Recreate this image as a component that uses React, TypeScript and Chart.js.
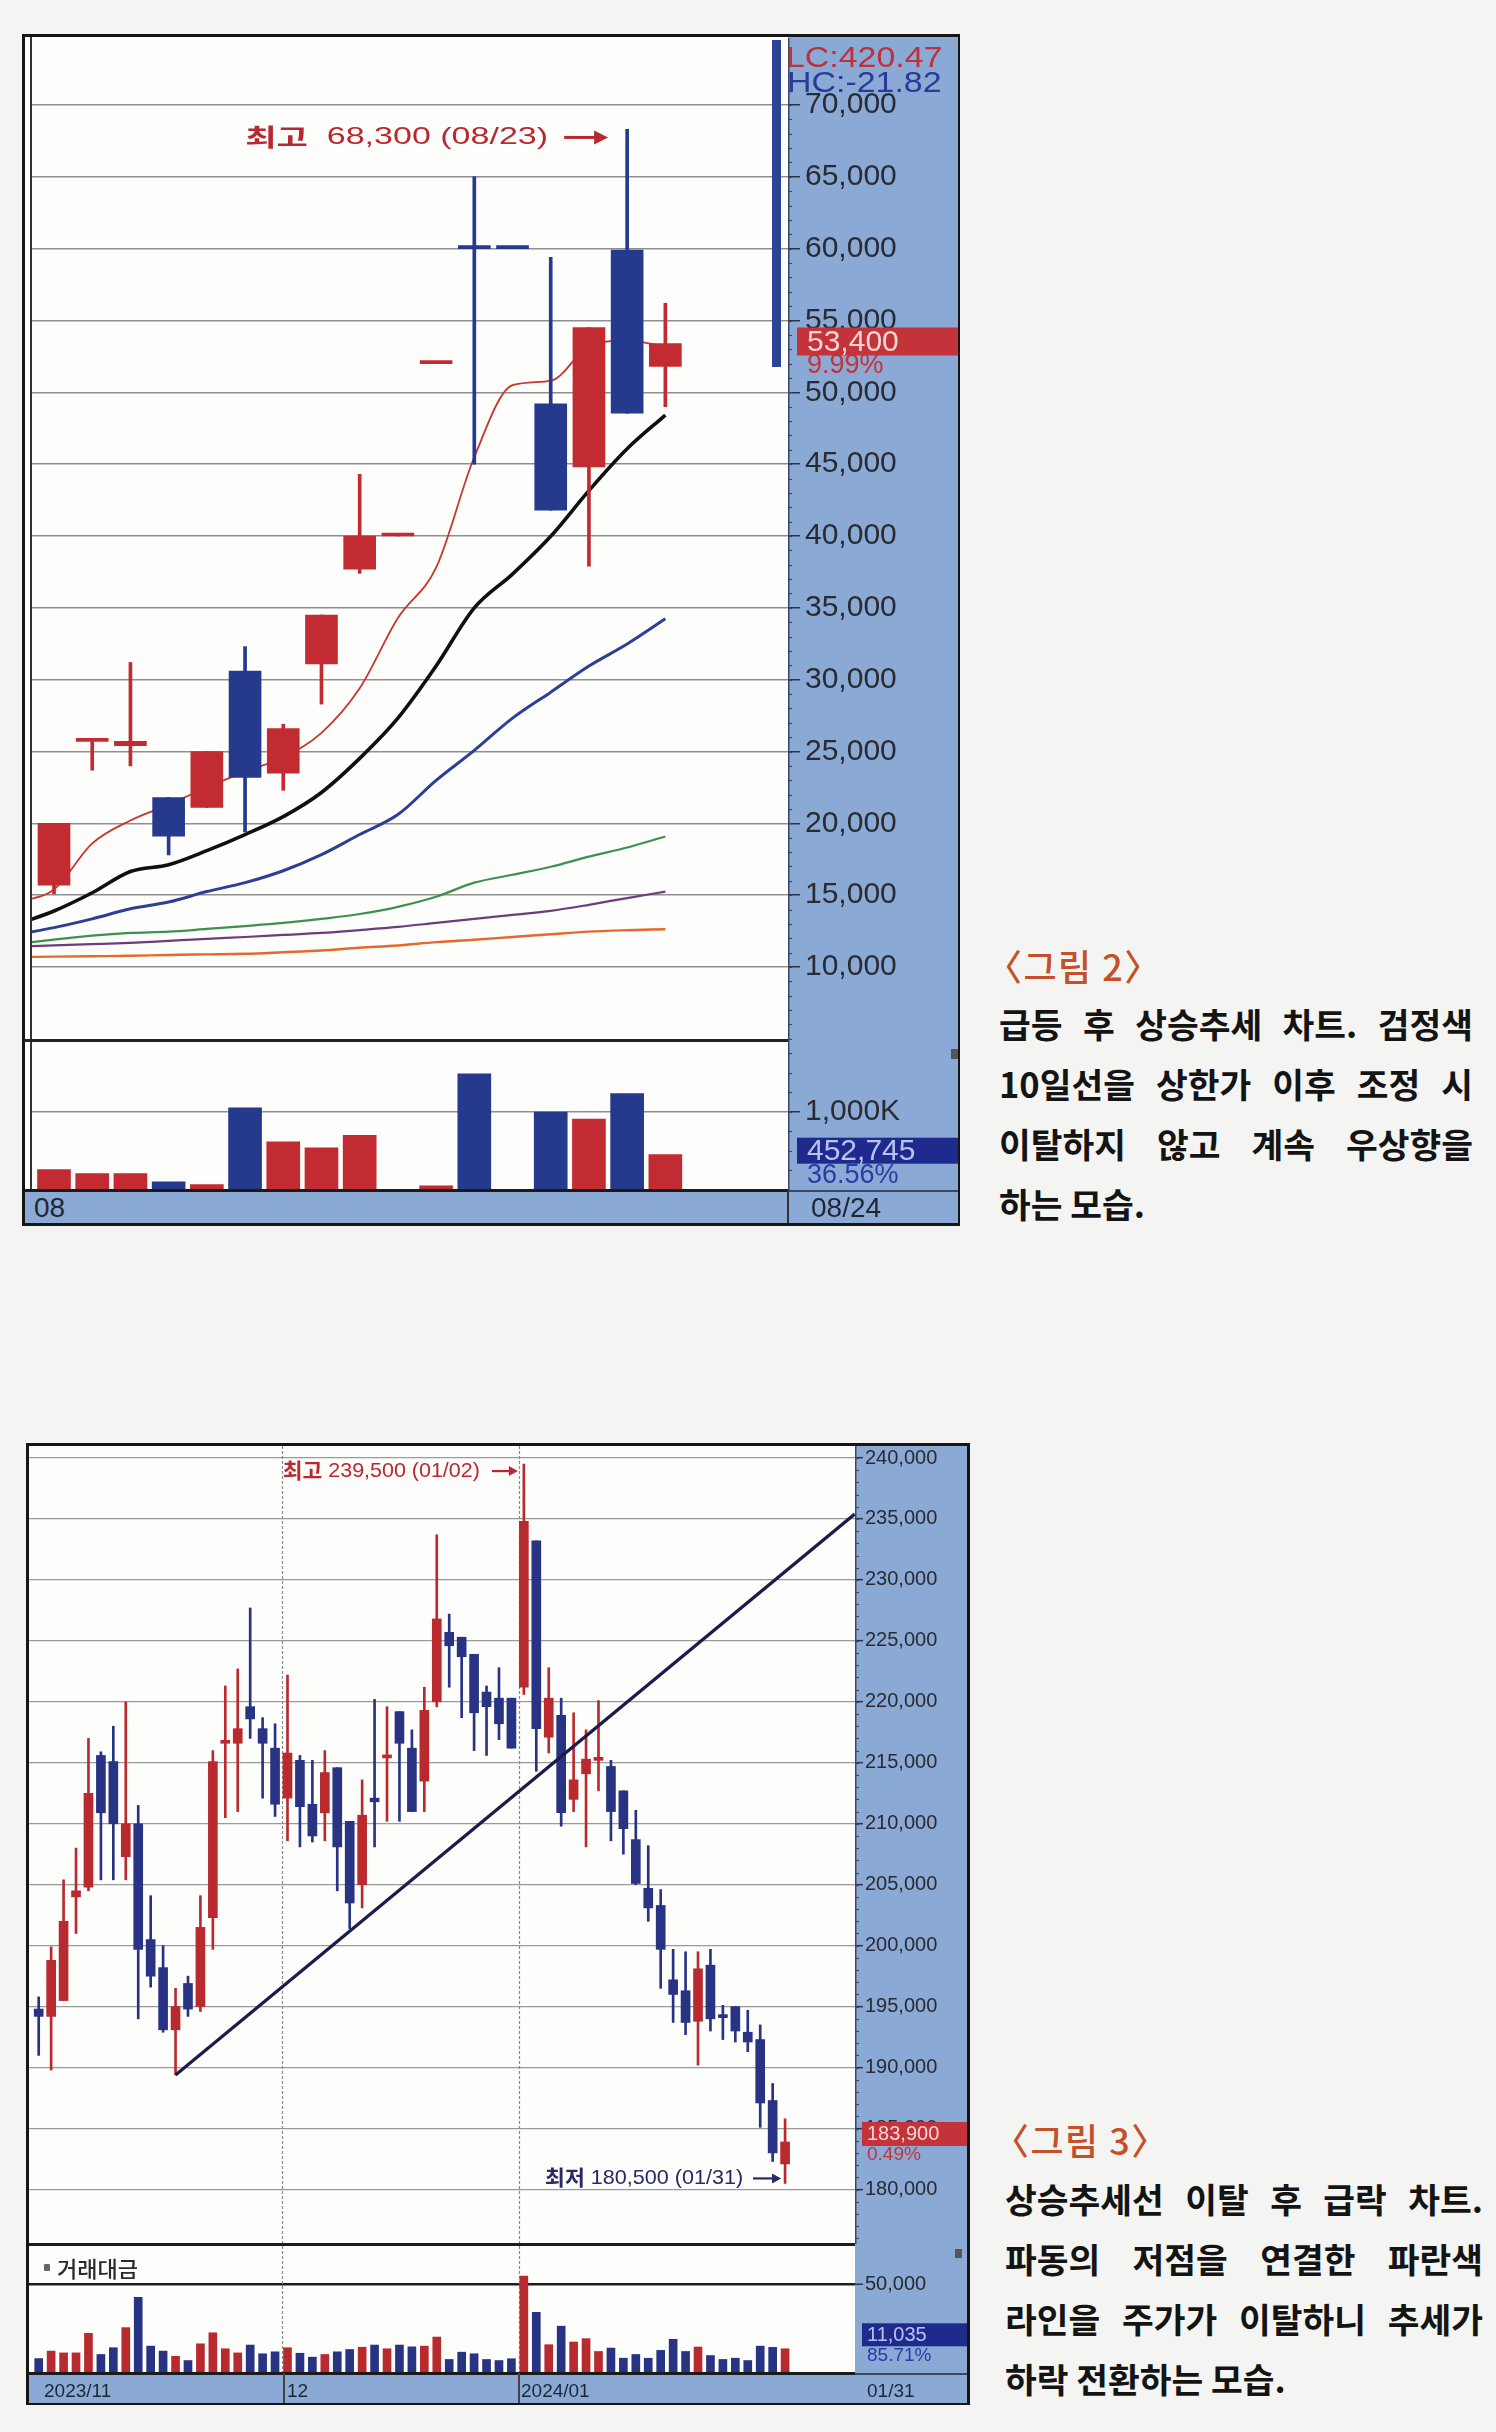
import React, { useEffect, useRef } from 'react';
import { Chart, registerables } from 'chart.js';

Chart.register(...registerables);

const FONT = '"Liberation Sans", "DejaVu Sans", Arial, sans-serif';
const KFONT = '"Noto Sans CJK KR", "Noto Sans", sans-serif';

// ================= 그림 2 : daily candles, August =================
const fig2Dates = ['08/01', '08/02', '08/03', '08/04', '08/07', '08/08', '08/09', '08/10', '08/11', '08/14', '08/16', '08/17', '08/18', '08/21', '08/22', '08/23', '08/24'];
const fig2Open = [15700, 25700, 25400, 21800, 21100, 30600, 23500, 31100, 37700, 40000, 52000, 60100, 60100, 49200, 44800, 59900, 51800];
const fig2High = [20000, 25700, 31200, 21800, 25000, 32300, 26900, 34500, 44300, 40000, 52000, 65000, 60100, 59400, 54500, 68300, 56200];
const fig2Low = [15100, 23700, 24000, 17800, 21100, 19400, 22300, 28300, 37400, 40000, 52000, 45000, 60000, 41800, 37900, 48550, 49000];
const fig2Close = [20000, 25700, 25700, 19100, 25000, 23200, 26600, 34500, 40000, 40000, 52000, 60000, 60000, 41800, 54500, 48550, 53400];
const fig2VolumeK = [263, 210, 210, 105, 68, 1053, 616, 542, 700, 0, 53, 1490, 0, 1000, 910, 1237, 452.745];
// moving averages: first value belongs to the previous session (07/31), then one per date above
const fig2Ma5 = [14500, 15400, 18600, 20200, 21300, 22500, 23600, 24600, 26300, 29400, 34300, 37800, 45500, 50500, 50800, 53200, 53600, 53200];
const fig2Ma10 = [12950, 13900, 15170, 16650, 17120, 18100, 19220, 20470, 22150, 24520, 27320, 30950, 35000, 37350, 39980, 43160, 46070, 48420];
const fig2Ma20 = [12250, 12740, 13350, 14050, 14520, 15250, 15870, 16700, 17820, 19220, 20610, 22990, 25080, 27320, 29130, 30950, 32480, 34240];
const fig2Ma60 = [11600, 11900, 12180, 12370, 12460, 12650, 12850, 13070, 13350, 13690, 14190, 14890, 15870, 16420, 16980, 17680, 18320, 19080];
const fig2Ma120 = [11400, 11510, 11590, 11680, 11820, 11960, 12090, 12230, 12370, 12570, 12790, 13070, 13350, 13630, 13910, 14330, 14800, 15250];
const fig2Ma240 = [10690, 10720, 10750, 10780, 10840, 10880, 10920, 11030, 11150, 11340, 11500, 11730, 11900, 12090, 12280, 12460, 12560, 12630];
const fig2PriceTicks = [10000, 15000, 20000, 25000, 30000, 35000, 40000, 45000, 50000, 55000, 60000, 65000, 70000];
const fig2VolumeTicks = [0, 1000];
const fig2LC = 'LC:420.47';
const fig2HC = 'HC:-21.82';
const fig2ChangePct = '9.99%';
const fig2VolumeRatio = '36.56%';
const fig2AxisStart = '08';

// ================= 그림 3 : daily candles, Nov 2023 - Jan 2024 =================
const fig3Dates = [
  '11/03', '11/06', '11/07', '11/08', '11/09', '11/10', '11/13', '11/14', '11/15', '11/16', '11/17', '11/20', '11/21', '11/22', '11/23', '11/24', '11/27', '11/28', '11/29', '11/30',
  '12/01', '12/04', '12/05', '12/06', '12/07', '12/08', '12/11', '12/12', '12/13', '12/14', '12/15', '12/18', '12/19', '12/20', '12/21', '12/22', '12/26', '12/27', '12/28',
  '01/02', '01/03', '01/04', '01/05', '01/08', '01/09', '01/10', '01/11', '01/12', '01/15', '01/16', '01/17', '01/18', '01/19', '01/22', '01/23', '01/24', '01/25', '01/26', '01/29', '01/30', '01/31',
];
const fig3Open = [194800, 194200, 195500, 204000, 204800, 215600, 215100, 207300, 210000, 200500, 198200, 193100, 196900, 195000, 202300, 216600, 216600, 219600, 217800, 216200, 212100, 215200, 211600, 210900, 214600, 210200, 205000, 212100, 215400, 219200, 216200, 213500, 220000, 225700, 225300, 223900, 220800, 220300, 220300, 221200, 233200, 217100, 218900, 212000, 214100, 215200, 214700, 212700, 208700, 204700, 203300, 197200, 196300, 193800, 198400, 194200, 195000, 192900, 192300, 187300, 182100];
const fig3High = [195800, 199900, 205400, 208000, 217000, 215900, 218000, 220000, 211500, 204100, 200000, 196500, 197500, 204100, 216000, 221300, 222700, 227700, 218700, 218200, 222200, 215600, 215200, 216000, 214600, 210200, 213600, 220200, 219600, 219200, 217700, 221200, 233700, 227200, 225300, 223900, 221300, 222800, 220300, 239500, 233200, 222800, 220300, 219100, 217700, 220100, 215200, 212700, 211100, 208200, 204600, 199700, 199500, 199500, 199700, 195100, 195000, 194700, 193500, 188700, 185800];
const fig3Low = [191000, 189800, 195500, 201000, 204500, 205400, 205400, 205400, 194000, 196600, 192900, 189400, 194200, 194600, 199700, 210500, 211000, 217000, 212100, 210600, 208600, 208100, 208500, 208600, 204500, 201400, 203100, 208100, 210200, 210200, 211000, 211000, 219600, 221200, 218700, 216000, 215600, 216900, 216200, 220600, 214300, 215800, 209800, 211000, 208100, 212700, 208600, 207500, 205000, 202000, 196500, 193700, 192700, 190200, 193000, 192300, 192100, 191300, 185100, 182300, 180500];
const fig3Close = [194200, 198800, 202000, 204500, 212500, 210900, 210000, 210000, 199700, 197500, 193100, 195000, 194800, 201500, 215100, 216800, 217800, 218600, 216600, 211600, 215800, 211400, 209000, 214200, 208100, 203500, 210700, 211800, 215600, 216600, 211000, 219300, 226800, 224600, 223700, 219100, 219600, 218200, 216200, 234800, 217800, 220300, 210900, 213600, 215300, 215400, 211000, 209600, 205100, 203100, 199700, 196000, 193700, 198100, 194000, 194100, 193000, 192100, 187100, 183000, 183900];
const fig3Amount = [8100, 12300, 11300, 11300, 22300, 10400, 14200, 25500, 42500, 15100, 12300, 9400, 7000, 16400, 22600, 13600, 11300, 15700, 10800, 11900, 14200, 11100, 8900, 10400, 11900, 13200, 14500, 15700, 13600, 15700, 14700, 15100, 20200, 7600, 11700, 10800, 7600, 7000, 8000, 54400, 34100, 15900, 26300, 17400, 19300, 12100, 14000, 8300, 10400, 8300, 12700, 18900, 12100, 14600, 9800, 7600, 8300, 7000, 15100, 14400, 13600];
// rising trend line joining the swing lows, extended to the right edge
const fig3TrendX = [11, 65.6];
const fig3TrendY = [189400, 235400];
const fig3PriceTicks = [180000, 185000, 190000, 195000, 200000, 205000, 210000, 215000, 220000, 225000, 230000, 235000, 240000];
const fig3AmountTicks = [0, 50000];
const fig3ChangePct = '0.49%';
const fig3LastAmount = '11,035';
const fig3AmountRatio = '85.71%';
const fig3AxisLabels = ['2023/11', '12', '2024/01'];
const fig3LastDate = '01/31';
const fig3Legend = '거래대금';

// ================= captions =================
const fig2CaptionTitle = '〈그림 2〉';
const fig2CaptionLines = ['급등 후 상승추세 차트. 검정색', '10일선을 상한가 이후 조정 시', '이탈하지 않고 계속 우상향을', '하는 모습.'];
const fig3CaptionTitle = '〈그림 3〉';
const fig3CaptionLines = ['상승추세선 이탈 후 급락 차트.', '파동의 저점을 연결한 파란색', '라인을 주가가 이탈하니 추세가', '하락 전환하는 모습.'];

// ================= helpers =================
const RED1 = '#c22b31';
const BLUE1 = '#25398d';
const RED2 = '#b92a2f';
const BLUE2 = '#283383';
const PANEL = '#8aaad5';

function candleColors(open: number[], close: number[], up: string, down: string) {
  return close.map((c, i) => {
    if (c > open[i]) return up;
    if (c < open[i]) return down;
    const prev = i > 0 ? close[i - 1] : c;
    return c >= prev ? up : down;
  });
}

const fmt = (v: number) => Number(v).toLocaleString('en-US');

const baseOptions = () => ({
  animation: false,
  responsive: false,
  devicePixelRatio: 1,
  events: [],
  layout: { padding: 0 },
  plugins: { legend: { display: false }, tooltip: { enabled: false } },
});

function rightAxis(o: any) {
  return {
    position: 'right',
    min: o.min,
    max: o.max,
    beginAtZero: false,
    afterBuildTicks: (s: any) => {
      s.ticks = o.ticks.map((v: number) => ({ value: v }));
    },
    afterFit: (s: any) => {
      s.width = o.width;
      s.paddingTop = 0;
      s.paddingBottom = 0;
    },
    ticks: { autoSkip: false, padding: o.padding, color: '#2a2a33', font: { family: FONT, size: o.fontSize }, callback: o.label },
    grid: { color: o.gridColor, lineWidth: o.gridWidth, tickLength: o.tickLength, tickColor: o.tickColor || '#2f3540', tickWidth: 1.5 },
    border: { display: false },
  };
}

const maLine = (vals: number[], color: string, width: number, order: number) => ({
  type: 'line',
  data: vals.map((v, k) => ({ x: k - 1, y: v })),
  borderColor: color,
  borderWidth: width,
  pointRadius: 0,
  cubicInterpolationMode: 'monotone',
  order,
});

const minorTickPlugin = (id: string, step: number, len: number, color: string) => ({
  id,
  afterDraw(chart: any) {
    const { ctx, chartArea, scales } = chart;
    const s = scales.y;
    ctx.save();
    ctx.strokeStyle = color;
    ctx.lineWidth = 1.2;
    for (let v = Math.ceil(s.min / step) * step; v <= s.max; v += step) {
      const y = Math.round(s.getPixelForValue(v)) + 0.5;
      ctx.beginPath();
      ctx.moveTo(chartArea.right, y);
      ctx.lineTo(chartArea.right + len, y);
      ctx.stroke();
    }
    ctx.lineWidth = 1.5;
    ctx.beginPath();
    ctx.moveTo(chartArea.right + 0.75, chartArea.top);
    ctx.lineTo(chartArea.right + 0.75, chartArea.bottom);
    ctx.stroke();
    ctx.restore();
  },
});

// "최고 68,300 (08/23) →" style label: text scaled to a width, then a drawn arrow whose tip sits next to the candle
const annPlugin = (o: any) => ({
  id: o.id,
  afterDatasetsDraw(chart: any) {
    const { ctx, scales } = chart;
    const tip = scales.x.getPixelForValue(o.idx) + o.dx;
    const y = scales.y.getPixelForValue(o.value) + o.dy;
    const f1 = `bold ${o.size}px ${KFONT}`;
    const f2 = `${o.size}px ${FONT}`;
    const arrowStart = tip - o.arrowLen;
    const textEnd = arrowStart - o.gap;
    const textStart = textEnd - o.textWidth;
    ctx.save();
    ctx.font = f1;
    const w1 = ctx.measureText(o.head).width;
    ctx.font = f2;
    const w2 = ctx.measureText(o.rest).width;
    const sx = o.textWidth / (w1 + w2);
    ctx.fillStyle = o.color;
    ctx.strokeStyle = o.color;
    ctx.save();
    ctx.translate(textStart, y);
    ctx.scale(sx, 1);
    ctx.textBaseline = 'middle';
    ctx.textAlign = 'left';
    ctx.font = f1;
    ctx.fillText(o.head, 0, 0);
    ctx.font = f2;
    ctx.fillText(o.rest, w1, 1);
    ctx.restore();
    // arrow
    const ay = y + 1;
    ctx.lineWidth = o.arrowWidth;
    ctx.beginPath();
    ctx.moveTo(arrowStart, ay);
    ctx.lineTo(tip - o.headLen + 1, ay);
    ctx.stroke();
    ctx.beginPath();
    ctx.moveTo(tip, ay);
    ctx.lineTo(tip - o.headLen, ay - o.headHalf);
    ctx.lineTo(tip - o.headLen, ay + o.headHalf);
    ctx.closePath();
    ctx.fill();
    ctx.restore();
  },
});

const tagPlugin = (o: any) => ({
  id: o.id,
  afterDraw(chart: any) {
    const { ctx, chartArea, scales } = chart;
    const yc = scales.y.getPixelForValue(o.value) + o.dy;
    const x0 = chartArea.right + o.dx;
    ctx.save();
    ctx.fillStyle = o.bg;
    ctx.fillRect(x0, yc - o.h / 2, chart.width - x0, o.h);
    ctx.font = o.font;
    ctx.fillStyle = o.fg;
    ctx.textAlign = 'left';
    ctx.textBaseline = 'middle';
    ctx.fillText(o.text, x0 + o.tx, yc + 1);
    if (o.sub) {
      ctx.font = o.subFont;
      ctx.fillStyle = o.subColor;
      ctx.fillText(o.sub, x0 + o.tx, yc + o.subDy);
    }
    ctx.restore();
  },
});

const monthLinePlugin = (id: string, breaks: number[]) => ({
  id,
  beforeDatasetsDraw(chart: any) {
    const { ctx, chartArea, scales } = chart;
    ctx.save();
    ctx.strokeStyle = '#8a8a8a';
    ctx.lineWidth = 1.2;
    ctx.setLineDash([3, 2]);
    breaks.forEach((b) => {
      const x = Math.round(scales.x.getPixelForValue(b)) + 0.5;
      ctx.beginPath();
      ctx.moveTo(x, chartArea.top);
      ctx.lineTo(x, chartArea.bottom);
      ctx.stroke();
    });
    ctx.restore();
  },
});

// x ranges (category index units) of the two plots
const fig2X = { min: -0.576, max: 19.21 };
const fig3X = { min: -0.78, max: 65.62 };
const fig3MonthBreaks = fig3Dates
  .map((d, i) => (i > 0 && d.slice(0, 2) !== fig3Dates[i - 1].slice(0, 2) ? i - 0.42 : -1))
  .filter((v) => v > 0);

function fig2PriceConfig() {
  const colors = candleColors(fig2Open, fig2Close, RED1, BLUE1);
  const peak = fig2High.indexOf(Math.max(...fig2High));
  const last = fig2Close.length - 1;
  return {
    type: 'bar',
    data: {
      datasets: [
        { type: 'bar', data: fig2Open.map((o, i) => ({ x: i, y: [o, fig2Close[i]] })), backgroundColor: colors, barThickness: 32, minBarLength: 3, grouped: false, order: 0 },
        { type: 'bar', data: fig2Low.map((l, i) => ({ x: i, y: [l, fig2High[i]] })), backgroundColor: colors, barThickness: 3, grouped: false, order: 1 },
        maLine(fig2Ma5, '#c9342f', 1.8, 2),
        maLine(fig2Ma10, '#101010', 3.6, 3),
        maLine(fig2Ma20, '#2c3f97', 3, 4),
        maLine(fig2Ma60, '#3f8f4f', 2.2, 5),
        maLine(fig2Ma120, '#6c3d7a', 2.2, 6),
        maLine(fig2Ma240, '#e46a2c', 2.4, 7),
      ],
    },
    options: {
      ...baseOptions(),
      scales: {
        x: { type: 'linear', min: fig2X.min, max: fig2X.max, display: false, offset: false },
        y: rightAxis({ min: 4919, max: 74664, ticks: fig2PriceTicks, width: 170, fontSize: 30, padding: 5, tickLength: 12, gridColor: '#8f8f8f', gridWidth: 1.5, label: (v: number) => fmt(v) }),
      },
    },
    plugins: [
      minorTickPlugin('fig2minor', 1000, 4, '#3a4766'),
      annPlugin({ id: 'fig2peak', idx: peak, value: fig2High[peak], dx: -19, dy: 7, textWidth: 303, gap: 16, arrowLen: 44, arrowWidth: 3, headLen: 14, headHalf: 7, size: 24, color: '#b8292f', head: '최고', rest: `  ${fmt(fig2High[peak])} (${fig2Dates[peak]})` }),
      tagPlugin({ id: 'fig2tag', value: fig2Close[last], dx: 9, dy: -2, h: 28, bg: '#c4323a', fg: '#f7d6d6', font: `30px ${FONT}`, tx: 10, text: fmt(fig2Close[last]), sub: fig2ChangePct, subColor: '#c4323a', subFont: `27px ${FONT}`, subDy: 24 }),
    ],
  };
}

function fig2VolumeConfig() {
  const colors = candleColors(fig2Open, fig2Close, RED1, BLUE1);
  const last = fig2VolumeK.length - 1;
  return {
    type: 'bar',
    data: {
      datasets: [{ type: 'bar', data: fig2VolumeK.map((v, i) => ({ x: i, y: v })), backgroundColor: colors, barThickness: 33, grouped: false }],
    },
    options: {
      ...baseOptions(),
      scales: {
        x: { type: 'linear', min: fig2X.min, max: fig2X.max, display: false, offset: false },
        y: rightAxis({
          min: 0, max: 1923, ticks: fig2VolumeTicks, width: 170, fontSize: 30, padding: 5, tickLength: 12,
          gridColor: (c: any) => (c.tick && c.tick.value === 0 ? 'rgba(0,0,0,0)' : '#8f8f8f'),
          tickColor: (c: any) => (c.tick && c.tick.value === 0 ? 'rgba(0,0,0,0)' : '#2f3540'),
          gridWidth: 1.5,
          label: (v: number) => (v === 0 ? '' : `${fmt(v)}K`),
        }),
      },
    },
    plugins: [
      minorTickPlugin('fig2vminor', 250, 4, '#3a4766'),
      tagPlugin({ id: 'fig2vtag', value: fig2VolumeK[last], dx: 9, dy: -4, h: 26, bg: '#1f2b8c', fg: '#b9c2f2', font: `30px ${FONT}`, tx: 10, text: fmt(Math.round(fig2VolumeK[last] * 1000)), sub: fig2VolumeRatio, subColor: '#2b3aa8', subFont: `27px ${FONT}`, subDy: 25 }),
    ],
  };
}

function fig3PriceConfig() {
  const colors = candleColors(fig3Open, fig3Close, RED2, BLUE2);
  const peak = fig3High.indexOf(Math.max(...fig3High));
  const trough = fig3Low.indexOf(Math.min(...fig3Low));
  const last = fig3Close.length - 1;
  return {
    type: 'bar',
    data: {
      datasets: [
        { type: 'line', data: fig3TrendX.map((x, i) => ({ x, y: fig3TrendY[i] })), borderColor: '#1c1c4a', borderWidth: 3.2, pointRadius: 0, order: 0 },
        { type: 'bar', data: fig3Open.map((o, i) => ({ x: i, y: [o, fig3Close[i]] })), backgroundColor: colors, barThickness: 9, minBarLength: 3, grouped: false, order: 1 },
        { type: 'bar', data: fig3Low.map((l, i) => ({ x: i, y: [l, fig3High[i]] })), backgroundColor: colors, barThickness: 2, grouped: false, order: 2 },
      ],
    },
    options: {
      ...baseOptions(),
      scales: {
        x: { type: 'linear', min: fig3X.min, max: fig3X.max, display: false, offset: false },
        y: rightAxis({ min: 175531, max: 240984, ticks: fig3PriceTicks, width: 112, fontSize: 20, padding: 2, tickLength: 8, gridColor: '#9a9a9a', gridWidth: 1.3, label: (v: number) => fmt(v) }),
      },
    },
    plugins: [
      monthLinePlugin('fig3months', fig3MonthBreaks),
      minorTickPlugin('fig3minor', 1000, 4, '#3a4766'),
      annPlugin({ id: 'fig3peak', idx: peak, value: fig3High[peak], dx: -6, dy: 6, textWidth: 197, gap: 12, arrowLen: 26, arrowWidth: 2.2, headLen: 9, headHalf: 5, size: 21, color: '#b8292f', head: '최고', rest: ` ${fmt(fig3High[peak])} (${fig3Dates[peak]})` }),
      annPlugin({ id: 'fig3trough', idx: trough, value: fig3Low[trough], dx: -4, dy: -6, textWidth: 198, gap: 10, arrowLen: 28, arrowWidth: 2.2, headLen: 9, headHalf: 5, size: 21, color: '#262a66', head: '최저', rest: ` ${fmt(fig3Low[trough])} (${fig3Dates[trough]})` }),
      tagPlugin({ id: 'fig3tag', value: fig3Close[last], dx: 7, dy: -8, h: 24, bg: '#c4323a', fg: '#f7d6d6', font: `20px ${FONT}`, tx: 5, text: fmt(fig3Close[last]), sub: fig3ChangePct, subColor: '#c4323a', subFont: `19px ${FONT}`, subDy: 21 }),
    ],
  };
}

function fig3AmountConfig() {
  const colors = candleColors(fig3Open, fig3Close, RED2, BLUE2);
  const last = fig3Amount.length - 1;
  return {
    type: 'bar',
    data: {
      datasets: [{ type: 'bar', data: fig3Amount.map((v, i) => ({ x: i, y: v })), backgroundColor: colors, barThickness: 8, grouped: false }],
    },
    options: {
      ...baseOptions(),
      scales: {
        x: { type: 'linear', min: fig3X.min, max: fig3X.max, display: false, offset: false },
        y: rightAxis({
          min: 0, max: 71348, ticks: fig3AmountTicks, width: 112, fontSize: 20, padding: 2, tickLength: 8,
          gridColor: (c: any) => (c.tick && c.tick.value === 0 ? 'rgba(0,0,0,0)' : '#1c1c1c'),
          tickColor: (c: any) => (c.tick && c.tick.value === 0 ? 'rgba(0,0,0,0)' : '#2f3540'),
          gridWidth: 2.5,
          label: (v: number) => (v === 0 ? '' : fmt(v)),
        }),
      },
    },
    plugins: [
      monthLinePlugin('fig3vmonths', fig3MonthBreaks),
      tagPlugin({ id: 'fig3vtag', value: fig3Amount[last], dx: 7, dy: -14, h: 23, bg: '#1f2b8c', fg: '#b9c2f2', font: `20px ${FONT}`, tx: 5, text: fig3LastAmount, sub: fig3AmountRatio, subColor: '#2b3aa8', subFont: `19px ${FONT}`, subDy: 21 }),
    ],
  };
}

function ChartCanvas({ left, top, width, height, build }: any) {
  const ref = useRef<HTMLCanvasElement>(null);
  useEffect(() => {
    const chart = new Chart(ref.current as HTMLCanvasElement, build());
    return () => chart.destroy();
  }, []);
  return <canvas ref={ref} width={width} height={height} style={{ position: 'absolute', left, top, width, height }} />;
}

const abs = (left: number, top: number, width: number, height: number, extra: any = {}) => ({ position: 'absolute' as const, left, top, width, height, ...extra });

function Txt({ left, top, size, color, children, sx = 1, weight = 400, family = FONT }: any) {
  return (
    <div style={{ position: 'absolute', left, top, fontSize: size, lineHeight: `${size}px`, color, fontWeight: weight, fontFamily: family, whiteSpace: 'nowrap', transform: `scaleX(${sx})`, transformOrigin: 'left top' }}>
      {children}
    </div>
  );
}

function Caption({ left, titleLeft, titleTop, linesTop, width, title, lines }: any) {
  return (
    <>
      <div style={{ position: 'absolute', left: titleLeft, top: titleTop, fontFamily: KFONT, fontSize: 36, lineHeight: '40px', letterSpacing: 1.5, color: '#c4502a', fontWeight: 500, whiteSpace: 'nowrap' }}>{title}</div>
      <div style={{ position: 'absolute', left, top: linesTop, width, fontFamily: KFONT }}>
        {lines.map((l: string, i: number) => (
          <div key={i} style={{ fontSize: 34.5, fontWeight: 700, lineHeight: '60px', color: '#141414', textAlign: 'left', textAlignLast: i === lines.length - 1 ? 'left' : 'justify' } as any}>
            {l}
          </div>
        ))}
      </div>
    </>
  );
}

export default function App() {
  useEffect(() => {
    document.body.style.margin = '0';
  }, []);
  return (
    <div style={{ position: 'absolute', left: 0, top: 0, width: 1496, height: 2432, background: '#f4f4f2', overflow: 'hidden', fontFamily: FONT }}>
      {/* ===== 그림 2 ===== */}
      <div style={abs(22, 34, 938, 1192, { border: '3px solid #161616', background: '#fdfdfc', boxSizing: 'border-box' })} />
      <div style={abs(788, 37, 170, 1186, { background: PANEL })} />
      <div style={abs(25, 1190, 763, 33, { background: PANEL })} />
      <ChartCanvas left={32} top={38} width={926} height={1002} build={fig2PriceConfig} />
      <ChartCanvas left={32} top={1040} width={926} height={150} build={fig2VolumeConfig} />
      <div style={abs(30, 37, 2, 1153, { background: '#333' })} />
      <div style={abs(24, 1039, 764, 2.5, { background: '#222' })} />
      <div style={abs(25, 1189, 763, 3, { background: '#1a1a1a' })} />
      <div style={abs(788, 1190, 170, 1.5, { background: '#3a4766' })} />
      <div style={abs(787, 1190, 1.5, 33, { background: '#333' })} />
      <div style={abs(772, 40, 9, 327, { background: '#2a4597' })} />
      <div style={abs(951, 1049, 7, 10, { background: '#555' })} />
      <Txt left={786} top={42} size={30} color="#c0303a" sx={1.13}>{fig2LC}</Txt>
      <Txt left={787} top={67} size={30} color="#2a3a9a" sx={1.13}>{fig2HC}</Txt>
      <Txt left={34} top={1194} size={28} color="#1e2634">{fig2AxisStart}</Txt>
      <Txt left={811} top={1194} size={28} color="#1e2634">{fig2Dates[fig2Dates.length - 1]}</Txt>

      {/* ===== 그림 3 ===== */}
      <div style={abs(26, 1443, 944, 962, { border: '3px solid #161616', background: '#fdfdfc', boxSizing: 'border-box' })} />
      <div style={abs(855, 1446, 112, 957, { background: PANEL })} />
      <div style={abs(29, 2373, 826, 30, { background: PANEL })} />
      <ChartCanvas left={29} top={1446} width={938} height={798} build={fig3PriceConfig} />
      <ChartCanvas left={29} top={2246} width={938} height={127} build={fig3AmountConfig} />
      <div style={abs(29, 2243, 826, 2.5, { background: '#1c1c1c' })} />
      <div style={abs(29, 2372, 826, 2.5, { background: '#1a1a1a' })} />
      <div style={abs(855, 2373, 112, 1.5, { background: '#3a4766' })} />
      <div style={abs(283, 2373, 1.5, 30, { background: '#444' })} />
      <div style={abs(518, 2373, 1.5, 30, { background: '#444' })} />
      <div style={abs(955, 2249, 7, 9, { background: '#555' })} />
      <div style={abs(44, 2264, 6, 7, { background: '#666', borderRadius: 1 })} />
      <Txt left={57} top={2256} size={22} color="#2a2a2a" family={KFONT} weight={500}>{fig3Legend}</Txt>
      <Txt left={44} top={2381} size={19} color="#1e2634">{fig3AxisLabels[0]}</Txt>
      <Txt left={287} top={2381} size={19} color="#1e2634">{fig3AxisLabels[1]}</Txt>
      <Txt left={521} top={2381} size={19} color="#1e2634">{fig3AxisLabels[2]}</Txt>
      <Txt left={867} top={2381} size={19} color="#1e2634">{fig3LastDate}</Txt>

      {/* ===== captions ===== */}
      <Caption left={999} titleLeft={986} titleTop={945} linesTop={993} width={474} title={fig2CaptionTitle} lines={fig2CaptionLines} />
      <Caption left={1005} titleLeft={993} titleTop={2119} linesTop={2168} width={478} title={fig3CaptionTitle} lines={fig3CaptionLines} />
    </div>
  );
}
